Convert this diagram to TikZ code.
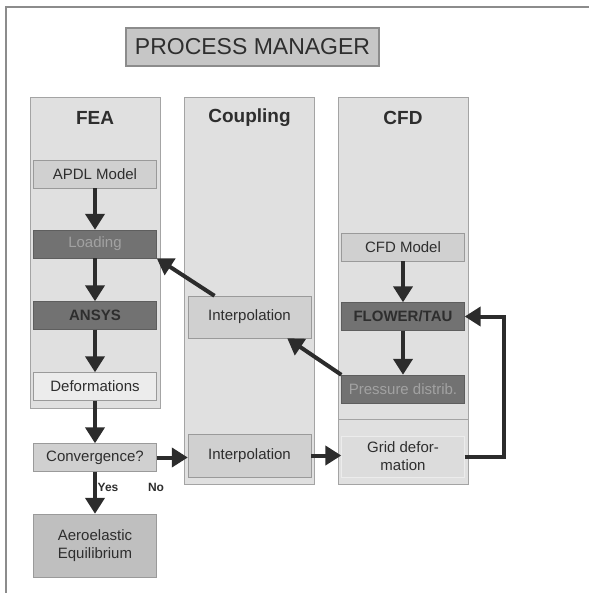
\documentclass[tikz,border=0pt]{standalone}
\usepackage{fontspec}
\setmainfont{Liberation Sans}
\usetikzlibrary{arrows.meta, positioning}

\definecolor{framecol}{HTML}{8C8C8C}
\definecolor{colfill}{HTML}{E0E0E0}
\definecolor{colborder}{HTML}{A4A4A4}
\definecolor{lightfill}{HTML}{D0D0D0}
\definecolor{boxborder}{HTML}{9A9A9A}
\definecolor{darkfill}{HTML}{727272}
\definecolor{darkborder}{HTML}{5E5E5E}
\definecolor{palefill}{HTML}{ECECEC}
\definecolor{gridfill}{HTML}{DCDCDC}
\definecolor{textdark}{HTML}{2E2E2E}
\definecolor{textpale}{HTML}{A2A2A2}
\definecolor{arrowcol}{HTML}{2C2C2C}

\begin{document}
\begin{tikzpicture}[x=1pt, y=-1pt,
    column/.style={rectangle, draw=colborder, fill=colfill, minimum width=130pt, inner sep=0pt},
    head/.style={font=\fontsize{19}{22}\selectfont\bfseries, text=textdark},
    lightbox/.style={rectangle, draw=boxborder, fill=lightfill, minimum width=123pt, minimum height=28pt, inner sep=0pt, align=center, font=\fontsize{15}{18}\selectfont, text=textdark},
    darkbox/.style={lightbox, fill=darkfill, draw=darkborder},
    arrow/.style={-{Triangle[length=16pt, width=19pt]}, line width=4pt, draw=arrowcol},
    answer/.style={font=\fontsize{12}{14}\selectfont\bfseries, text=textdark}
]
\useasboundingbox (0,0) rectangle (589,593);
\draw[framecol, line width=2pt] (6,593) -- (6,7) -- (589,7);

\node[lightbox, fill=lightfill!95!black, draw=framecol, line width=1.5pt, minimum width=253pt, minimum height=38pt, font=\fontsize{23}{26}\selectfont] (title) at (252.5,47) {PROCESS MANAGER};

\node[column, minimum height=311pt] (feacol) at (95,252.5) {};
\node[column, minimum height=387pt] (cplcol) at (249.5,290.5) {};
\node[column, minimum height=387pt] (cfdcol) at (403,290.5) {};
\draw[colborder] (338,419) -- (468,419);
\node[head] (feahead) at (95,118) {FEA};
\node[head] (cplhead) at (249.5,118) {Coupling};
\node[head] (cfdhead) at (403,118) {CFD};

\node[lightbox] (apdl) at (95,174) {APDL Model};
\node[darkbox, text=textpale] (loading) at (95,244) {Loading};
\node[darkbox, font=\fontsize{15}{18}\selectfont\bfseries] (ansys) at (95,315.5) {ANSYS};
\node[lightbox, fill=palefill] (deform) at (95,386.5) {Deformations};
\node[lightbox] (converge) at (95,457.5) {Convergence?};
\node[lightbox, fill=lightfill!92!black, minimum height=63pt] (equil) at (95,545.5) {Aeroelastic\\Equilibrium};

\node[lightbox, minimum height=42pt] (interpA) at (249.5,317) {Interpolation};
\node[lightbox, minimum height=43pt] (interpB) at (249.5,455.5) {Interpolation};

\node[lightbox] (cfdmodel) at (403,247) {CFD Model};
\node[darkbox, font=\fontsize{15}{18}\selectfont\bfseries] (flower) at (403,316.5) {FLOWER/TAU};
\node[darkbox, text=textpale] (pressure) at (403,389) {Pressure distrib.};
\node[lightbox, fill=gridfill, draw=palefill, minimum height=41pt] (grid) at (403,456.5) {Grid defor-\\mation};

\node[answer] (yes) at (108,487) {Yes};
\node[answer] (no) at (156,487) {No};

\draw[arrow] (apdl) -- (loading);
\draw[arrow] (loading) -- (ansys);
\draw[arrow] (ansys) -- (deform);
\draw[arrow] (deform) -- (converge);
\draw[arrow] (converge) -- (equil);
\draw[arrow] (converge.east) -- (converge.east -| interpB.west);
\draw[arrow] (interpB.east) -- (interpB.east -| grid.west);
\draw[arrow] (grid.east) -- ++(39,0) |- (flower.east);
\draw[arrow] (cfdmodel) -- (flower);
\draw[arrow] (flower) -- (pressure);
\draw[arrow] (pressure.north west) -- ([xshift=-24pt]interpA.south east);
\draw[arrow] ([xshift=-35pt]interpA.north) -- (loading.south east);
\end{tikzpicture}
\end{document}
